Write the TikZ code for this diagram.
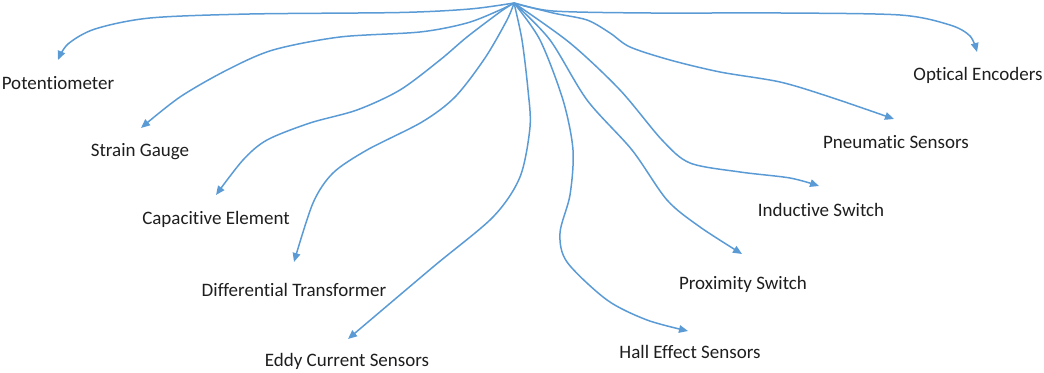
\documentclass[tikz,border=0pt]{standalone}
\usepackage{fontspec}
\setmainfont{Carlito}[Ligatures=NoCommon]
\usetikzlibrary{arrows.meta}
\definecolor{linkblue}{RGB}{91,155,213}
\definecolor{labelgray}{RGB}{30,30,30}

\begin{document}
\begin{tikzpicture}[x=0.5pt, y=-0.5pt,
    link/.style={-{Triangle[length=4.5pt, width=3.8pt]}, line width=0.75pt, linkblue, line join=round},
    lbl/.style={anchor=base, inner sep=0pt, text=labelgray, font=\fontsize{9.5}{11}\selectfont}]
    \useasboundingbox (0,0) rectangle (1044,373);

    % Common source
    \coordinate (src) at (514,3);

    % Arrow ends
    \coordinate (potTip)  at (58,60);
    \coordinate (strTip)  at (141,128);
    \coordinate (capTip)  at (216,195);
    \coordinate (difTip)  at (294,262);
    \coordinate (eddyTip) at (348,339);
    \coordinate (hallTip) at (688,331);
    \coordinate (proxTip) at (742,254);
    \coordinate (indTip)  at (819,186);
    \coordinate (pneuTip) at (894,119);
    \coordinate (optTip)  at (977,52);

    % Labels
    \node[lbl] (pot)  at (58,90)   {Potentiometer};
    \node[lbl] (str)  at (140,157) {Strain Gauge};
    \node[lbl] (cap)  at (216,225) {Capacitive Element};
    \node[lbl] (dif)  at (294,297) {Differential Transformer};
    \node[lbl] (eddy) at (347,367) {Eddy Current Sensors};
    \node[lbl] (hall) at (690,359) {Hall Effect Sensors};
    \node[lbl] (prox) at (743,290) {Proximity Switch};
    \node[lbl] (ind)  at (821,217) {Inductive Switch};
    \node[lbl] (pneu) at (896,149) {Pneumatic Sensors};
    \node[lbl] (opt)  at (978,81)  {Optical Encoders};

    % Left fan
    \draw[link] plot[smooth] coordinates {(src) (470,9) (400,12.5) (250,14) (150,18) (95,29) (68,44) (potTip)};
    \draw[link] plot[smooth] coordinates {(src) (500,10) (467,23) (420,32) (340,37) (273,50) (227,70) (180,97) (strTip)};
    \draw[link] plot[smooth] coordinates {(src) (500,12) (467,37) (440,60) (400,90) (357,110) (310,123) (267,140) (243,160) (capTip)};
    \draw[link] plot[smooth] coordinates {(src) (507,20) (485,58) (455,97) (422,122) (367,150) (333,173) (313,203) (difTip)};
    \draw[link] plot[smooth] coordinates {(src) (522,40) (528,90) (530,127) (520,177) (493,217) (433,267) (eddyTip)};

    % Right fan
    \draw[link] plot[smooth] coordinates {(src) (540,40) (563,100) (573,150) (570,195) (560,233) (567,262) (607,300) (647,320) (hallTip)};
    \draw[link] plot[smooth] coordinates {(src) (550,40) (587,100) (632,150) (667,200) (700,227) (proxTip)};
    \draw[link] plot[smooth] coordinates {(src) (570,43) (620,90) (662,140) (690,163) (740,172) (790,178) (indTip)};
    \draw[link] plot[smooth] coordinates {(src) (553,13) (587,20) (610,33) (630,47) (670,60) (720,72) (780,82) (830,97) (pneuTip)};
    \draw[link] plot[smooth] coordinates {(src) (553,11) (650,13) (780,13) (900,15) (950,25) (970,36) (optTip)};
\end{tikzpicture}
\end{document}
